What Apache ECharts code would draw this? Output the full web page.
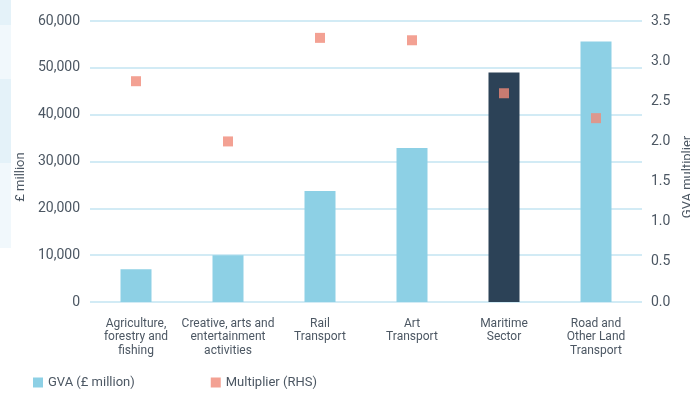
<!DOCTYPE html>
<html>
<head>
<meta charset="utf-8">
<script src="https://cdn.jsdelivr.net/npm/echarts@6/dist/echarts.min.js"></script>
<style>
  html, body { margin: 0; padding: 0; background: #fff; }
  #chart { width: 690px; height: 395px; }
</style>
</head>
<body>
<div id="chart"></div>
<script>
// Sector categories (line breaks as printed under each bar)
const categories = [
  'Agriculture,\nforestry and\nfishing',
  'Creative, arts and\nentertainment\nactivities',
  'Rail\nTransport',
  'Art\nTransport',
  'Maritime\nSector',
  'Road and\nOther Land\nTransport'
];
// Gross value added, £ million
const gvaValues = [7000, 10000, 23700, 32900, 49000, 55600];
// GVA multiplier (right-hand scale)
const multiplierValues = [2.75, 2.0, 3.29, 3.26, 2.6, 2.29];
const highlightCategory = 'Maritime\nSector';

const textColor = '#4c5763';
const gridColor = '#d2ebf5';
const barColor = '#8dd0e5';
const highlightColor = '#2c4257';
const markerColor = '#f08a78';
const fontFamily = 'Roboto, "Noto Sans", sans-serif';

const chart = echarts.init(document.getElementById('chart'), null, { renderer: 'canvas' });

chart.setOption({
  animation: false,
  backgroundColor: '#ffffff',
  textStyle: { fontFamily: fontFamily, color: textColor },
  grid: { left: 90, right: 48, top: 21, bottom: 93, containLabel: false },
  legend: {
    left: 33,
    top: 376,
    padding: 0,
    itemWidth: 10,
    itemHeight: 10,
    itemGap: 76,
    icon: 'rect',
    textStyle: { fontSize: 13, color: textColor, fontFamily: fontFamily },
    data: ['GVA (£ million)', 'Multiplier (RHS)']
  },
  xAxis: {
    type: 'category',
    data: categories,
    axisLine: { show: false },
    axisTick: { show: false },
    axisLabel: {
      interval: 0,
      margin: 15,
      fontSize: 12,
      lineHeight: 13.5,
      color: textColor,
      fontFamily: fontFamily
    }
  },
  yAxis: [
    {
      type: 'value',
      min: 0,
      max: 60000,
      interval: 10000,
      axisLine: { show: false },
      axisTick: { show: false },
      splitLine: { lineStyle: { color: gridColor, width: 2 } },
      axisLabel: {
        margin: 10,
        fontSize: 14,
        color: textColor,
        fontFamily: fontFamily,
        formatter: v => v.toLocaleString('en-GB')
      }
    },
    {
      type: 'value',
      min: 0,
      max: 3.5,
      interval: 0.5,
      position: 'right',
      axisLine: { show: false },
      axisTick: { show: false },
      splitLine: { show: false },
      axisLabel: {
        margin: 9,
        fontSize: 14,
        color: textColor,
        fontFamily: fontFamily,
        formatter: v => v.toFixed(1)
      }
    }
  ],
  series: [
    {
      name: 'GVA (£ million)',
      type: 'bar',
      yAxisIndex: 0,
      barWidth: 31,
      itemStyle: { color: barColor },
      data: gvaValues.map((v, i) => ({
        value: v,
        itemStyle: { color: categories[i] === highlightCategory ? highlightColor : barColor }
      }))
    },
    {
      name: 'Multiplier (RHS)',
      type: 'scatter',
      yAxisIndex: 1,
      symbol: 'rect',
      symbolSize: 10,
      itemStyle: { color: markerColor },
      z: 5,
      data: multiplierValues
    }
  ],
  graphic: [
    // pale side panel at the left edge
    { type: 'rect', left: 0, top: 0, shape: { width: 11, height: 25 }, style: { fill: '#e4f2f9' }, silent: true },
    { type: 'rect', left: 0, top: 25, shape: { width: 11, height: 54 }, style: { fill: '#f1f8fc' }, silent: true },
    { type: 'rect', left: 0, top: 79, shape: { width: 11, height: 84 }, style: { fill: '#e4f2f9' }, silent: true },
    { type: 'rect', left: 0, top: 163, shape: { width: 11, height: 85 }, style: { fill: '#f1f8fc' }, silent: true },
    // axis titles
    {
      type: 'text',
      x: 21, y: 177,
      rotation: Math.PI / 2,
      style: {
        text: '£ million', fill: textColor, font: '13px ' + fontFamily,
        textAlign: 'center', textVerticalAlign: 'middle'
      }
    },
    {
      type: 'text',
      x: 688, y: 177,
      rotation: Math.PI / 2,
      style: {
        text: 'GVA multiplier', fill: textColor, font: '13px ' + fontFamily,
        textAlign: 'center', textVerticalAlign: 'middle'
      }
    }
  ]
});
</script>
</body>
</html>
